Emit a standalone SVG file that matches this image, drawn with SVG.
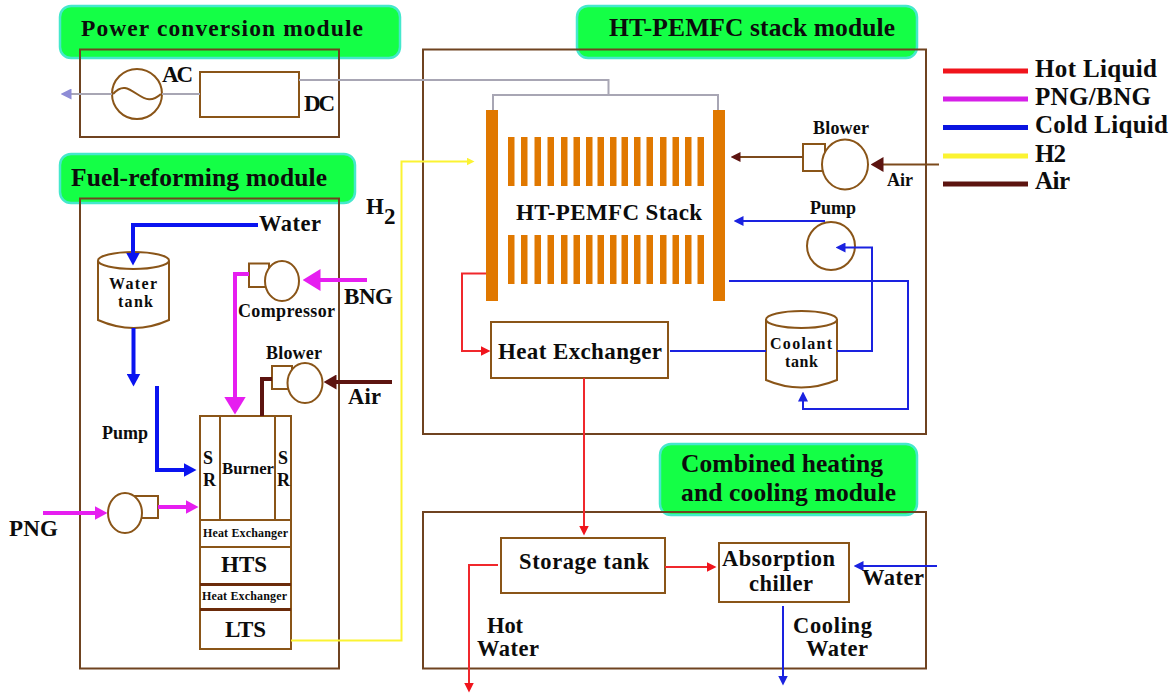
<svg xmlns="http://www.w3.org/2000/svg" width="1175" height="696" viewBox="0 0 1175 696">
<style>
text{font-family:"Liberation Serif","Times New Roman",serif;font-weight:bold;fill:#0c0c0c}
text:not(.t):not(.p){transform:translateY(1px)}
.t{font-size:25.500px}.p{font-size:23.500px}.lg{font-size:25px}.m{font-size:23px}.n{font-size:22.500px}.s{font-size:18px}.x{font-size:12px}
.c{text-anchor:middle}
.badge{fill:#14ff46;stroke:#45e8cc;stroke-width:2.5}
.frame{fill:none;stroke:#6f4320;stroke-width:2}
.eq{fill:#fff;stroke:#8a5518;stroke-width:2}
.eqn{fill:none;stroke:#8a5518;stroke-width:2}
.bar{fill:#e07800}
.l{fill:none;stroke-linejoin:miter}
.blue4{stroke:#0a14f0;stroke-width:4}.blue2{stroke:#1a22e0;stroke-width:2}
.mag{stroke:#e61ef0;stroke-width:4}.red{stroke:#f0282c;stroke-width:2}
.yel{stroke:#fbf332;stroke-width:2}.gry{stroke:#a8a6b4;stroke-width:2}
.air4{stroke:#5c1410;stroke-width:4}.air2{stroke:#7c4a1c;stroke-width:2}
</style>
<defs>
<marker id="hBlueL" markerUnits="userSpaceOnUse" markerWidth="13" markerHeight="14" viewBox="0 0 13 14" refX="0.5" refY="7" orient="auto"><path d="M0 0L13 7L0 14Z" fill="#0a14f0"/></marker>
<marker id="hBlueS" markerUnits="userSpaceOnUse" markerWidth="10" markerHeight="10" viewBox="0 0 10 10" refX="0.5" refY="5" orient="auto"><path d="M0 0L10 5L0 10Z" fill="#1a22e0"/></marker>
<marker id="hMagL" markerUnits="userSpaceOnUse" markerWidth="18" markerHeight="22" viewBox="0 0 18 22" refX="0.5" refY="11" orient="auto"><path d="M0 0L18 11L0 22Z" fill="#e61ef0"/></marker>
<marker id="hMagM" markerUnits="userSpaceOnUse" markerWidth="13" markerHeight="14" viewBox="0 0 13 14" refX="0.5" refY="7" orient="auto"><path d="M0 0L13 7L0 14Z" fill="#e61ef0"/></marker>
<marker id="hRed" markerUnits="userSpaceOnUse" markerWidth="10" markerHeight="10" viewBox="0 0 10 10" refX="0.5" refY="5" orient="auto"><path d="M0 0L10 5L0 10Z" fill="#f0141c"/></marker>
<marker id="hAirL" markerUnits="userSpaceOnUse" markerWidth="13" markerHeight="15" viewBox="0 0 13 15" refX="0.5" refY="7.500" orient="auto"><path d="M0 0L13 7.500L0 15Z" fill="#5c1410"/></marker>
<marker id="hAirS" markerUnits="userSpaceOnUse" markerWidth="10" markerHeight="10" viewBox="0 0 10 10" refX="0.5" refY="5" orient="auto"><path d="M0 0L10 5L0 10Z" fill="#5c1410"/></marker>
<marker id="hYel" markerUnits="userSpaceOnUse" markerWidth="8" markerHeight="8" viewBox="0 0 8 8" refX="0.5" refY="4" orient="auto"><path d="M0 0L8 4L0 8Z" fill="#fbf332"/></marker>
<marker id="hGry" markerUnits="userSpaceOnUse" markerWidth="11" markerHeight="11" viewBox="0 0 11 11" refX="0.5" refY="5.500" orient="auto"><path d="M0 0L11 5.500L0 11Z" fill="#8e8cd6"/></marker>
<g id="fins"><rect class="bar" x="508" width="6.500" height="49"/><rect class="bar" x="521" width="6.500" height="49"/><rect class="bar" x="534.500" width="6.500" height="49"/><rect class="bar" x="547.500" width="6.500" height="49"/><rect class="bar" x="561" width="6.500" height="49"/><rect class="bar" x="573.500" width="6.500" height="49"/><rect class="bar" x="586" width="6.500" height="49"/><rect class="bar" x="597.500" width="6.500" height="49"/><rect class="bar" x="610" width="6.500" height="49"/><rect class="bar" x="621.500" width="6.500" height="49"/><rect class="bar" x="634" width="6.500" height="49"/><rect class="bar" x="646.500" width="6.500" height="49"/><rect class="bar" x="660" width="6.500" height="49"/><rect class="bar" x="672.500" width="6.500" height="49"/><rect class="bar" x="685" width="6.500" height="49"/><rect class="bar" x="697.500" width="6.500" height="49"/></g>
</defs>
<rect width="1175" height="696" fill="#fff"/>

<g id="module-power">
<rect class="badge" x="60" y="6" width="340" height="52" rx="11"/>
<text class="p" x="81" y="36" textLength="282">Power conversion module</text>
<rect class="frame" x="80" y="49.500" width="259" height="87.500"/>
</g>
<g id="module-fuel">
<rect class="badge" x="60" y="154" width="295" height="49" rx="11"/>
<text class="t" x="71" y="186" textLength="256">Fuel-reforming module</text>
<rect class="frame" x="80" y="198.500" width="259" height="470"/>
</g>
<g id="module-stack">
<rect class="badge" x="577" y="6" width="340" height="52" rx="11"/>
<text class="t" x="609" y="36" textLength="286">HT-PEMFC stack module</text>
<rect class="frame" x="423" y="49.500" width="503" height="384.500"/>
</g>
<g id="module-chp">
<rect class="badge" x="660" y="444" width="257" height="71" rx="11"/>
<text class="t" x="681" y="472" textLength="202">Combined heating</text>
<text class="t" x="681" y="501" textLength="215">and cooling module</text>
<rect class="frame" x="423" y="512" width="503" height="156.500"/>
</g>

<g id="generator">
<circle class="eq" cx="137" cy="94" r="25"/>
<path class="eqn" d="M113 94C122 84 128 88 137 94S152 102 161 94"/>
<text class="m" x="162" y="81" textLength="31">AC</text>
</g>
<g id="converter">
<rect class="eq" x="200" y="72" width="99" height="45"/>
<text class="m" x="304" y="110" textLength="31">DC</text>
</g>

<g id="water-tank">
<path class="eq" d="M98 261V320Q134 336 169 320V261"/>
<ellipse class="eq" cx="133.500" cy="260.500" rx="35.500" ry="8.500"/>
<text style="font-size:16px" x="109" y="288" textLength="48">Water</text>
<text style="font-size:16px" x="118" y="306" textLength="35">tank</text>
</g>
<g id="compressor">
<rect class="eq" x="249" y="263.500" width="20" height="23.500"/>
<ellipse class="eq" cx="282" cy="281" rx="17" ry="20"/>
<text class="s" x="238" y="316" textLength="97">Compressor</text>
</g>
<g id="blower-fuel">
<rect class="eq" x="272" y="366" width="20" height="23"/>
<ellipse class="eq" cx="305" cy="383" rx="17.500" ry="20"/>
<text class="s" x="266" y="358" textLength="56">Blower</text>
</g>
<g id="pump-fuel">
<rect class="eq" x="133" y="496" width="25" height="22"/>
<ellipse class="eq" cx="125" cy="513" rx="17" ry="20"/>
</g>
<g id="reformer">
<rect class="eq" x="200" y="416" width="91" height="233"/>
<path class="eqn" d="M220 416V520M275 416V520M200 520H291M200 547H291"/>
<path fill="none" stroke="#6b2b0a" stroke-width="3" d="M200 584.500H291M200 609.500H291"/>
<text class="s" x="203" y="463">S</text><text class="s" x="203" y="485">R</text>
<text class="s" x="278" y="463">S</text><text class="s" x="277" y="485">R</text>
<text style="font-size:16.700px" x="222" y="473" textLength="52">Burner</text>
<text class="x" x="203" y="536" textLength="85">Heat Exchanger</text>
<text class="m" x="221" y="571" textLength="46">HTS</text>
<text class="x" x="202" y="599" textLength="85">Heat Exchanger</text>
<text class="m" x="225" y="636" textLength="41">LTS</text>
</g>

<g id="stack">
<rect class="bar" x="486" y="110" width="12" height="191"/>
<rect class="bar" x="713" y="110" width="12" height="191"/>
<use href="#fins" y="137"/>
<use href="#fins" y="235"/>
<text class="m" x="516" y="219" textLength="186">HT-PEMFC Stack</text>
</g>
<g id="blower-stack">
<rect class="eq" x="803" y="144" width="22" height="27"/>
<ellipse class="eq" cx="845" cy="164.500" rx="23" ry="25"/>
<text class="s" x="813" y="133" textLength="56">Blower</text>
</g>
<g id="pump-stack">
<circle class="eq" cx="831" cy="246" r="24"/>
<text class="s" x="810" y="213" textLength="46">Pump</text>
</g>
<g id="coolant-tank">
<path class="eq" d="M766 319V380Q801 395 837 380V319"/>
<ellipse class="eq" cx="801.500" cy="319.500" rx="35.500" ry="8.500"/>
<text style="font-size:16px" x="770" y="348" textLength="62">Coolant</text>
<text style="font-size:16px" x="785" y="366" textLength="33">tank</text>
</g>
<g id="heat-exchanger">
<rect class="eq" x="491" y="322" width="177" height="56"/>
<text class="m" x="498" y="358" textLength="164">Heat Exchanger</text>
</g>
<g id="storage-tank">
<rect class="eq" x="501" y="538" width="164" height="55"/>
<text class="n" x="519" y="568" textLength="130">Storage tank</text>
</g>
<g id="absorption-chiller">
<rect class="eq" x="719" y="543" width="130" height="59"/>
<text class="n" x="722" y="565" textLength="113">Absorption</text>
<text class="n" x="749" y="590" textLength="64">chiller</text>
</g>

<g id="connectors">
<path class="l gry" d="M299 80H608.500V95M493 110V95H718V110"/>
<path class="l gry" d="M200 94H162M112 94H71" marker-end="url(#hGry)"/>
<path class="l blue4" d="M258 225H133V253" marker-end="url(#hBlueL)"/>
<path class="l blue4" d="M133.500 328V374" marker-end="url(#hBlueL)"/>
<path class="l blue4" d="M157 386V470H184" marker-end="url(#hBlueL)"/>
<path class="l mag" d="M367 280H320" marker-end="url(#hMagL)"/>
<path class="l mag" d="M249 274H235V397" marker-end="url(#hMagL)"/>
<path class="l mag" d="M43 513H95" marker-end="url(#hMagM)"/>
<path class="l mag" d="M158 507H186" marker-end="url(#hMagM)"/>
<path class="l air4" d="M392 382H336" marker-end="url(#hAirL)"/>
<path class="l air4" d="M272 379H262V416"/>
<path class="l yel" d="M291 640.500H401.500V161.500H467" marker-end="url(#hYel)"/>
<path class="l air2" d="M939 164.500H883" marker-end="url(#hAirL)"/>
<path class="l air2" d="M803 157H740" marker-end="url(#hAirS)"/>
<path class="l blue2" d="M825 221H743" marker-end="url(#hBlueS)"/>
<path class="l blue2" d="M837 351H872V247.500H845" marker-end="url(#hBlueS)"/>
<path class="l blue2" d="M729 281H908V409H803V401" marker-end="url(#hBlueS)"/>
<path class="l blue2" d="M670 351H766"/>
<path class="l red" d="M486 273.500H462V351H481" marker-end="url(#hRed)"/>
<path class="l red" d="M584 378V526" marker-end="url(#hRed)"/>
<path class="l red" d="M665 567H707" marker-end="url(#hRed)"/>
<path class="l red" d="M498 565H469V683" marker-end="url(#hRed)"/>
<path class="l blue2" d="M937 566H863" marker-end="url(#hBlueS)"/>
<path class="l blue2" d="M783 606V676" marker-end="url(#hBlueS)"/>
</g>

<g id="flow-labels">
<text class="m" x="366" y="213">H<tspan dy="10">2</tspan></text>
<text class="n" x="259" y="230" textLength="62">Water</text>
<text class="m" x="344" y="303" textLength="49">BNG</text>
<text class="n" x="348" y="403" textLength="33">Air</text>
<text class="s" x="102" y="438" textLength="46">Pump</text>
<text class="m" x="9" y="535" textLength="49">PNG</text>
<text class="s" x="887" y="185" textLength="26">Air</text>
<text class="n" x="862" y="584" textLength="62">Water</text>
<text class="n" x="487" y="632" textLength="36">Hot</text>
<text class="n" x="477" y="655" textLength="62">Water</text>
<text class="n" x="793" y="632" textLength="79">Cooling</text>
<text class="n" x="806" y="655" textLength="62">Water</text>
</g>

<g id="legend">
<path stroke="#f0141c" stroke-width="5" d="M943 71H1028"/>
<path stroke="#d61fe8" stroke-width="5" d="M943 99H1028"/>
<path stroke="#0a14e0" stroke-width="5" d="M943 127.500H1028"/>
<path stroke="#fbf332" stroke-width="5" d="M943 156H1028"/>
<path stroke="#5c1410" stroke-width="5" d="M943 184H1028"/>
<text class="lg" x="1035" y="76" textLength="122">Hot Liquid</text>
<text class="lg" x="1035" y="104" textLength="116">PNG/BNG</text>
<text class="lg" x="1035" y="132" textLength="133">Cold Liquid</text>
<text class="lg" x="1035" y="161" textLength="31">H2</text>
<text class="lg" x="1035" y="188" textLength="35">Air</text>
</g>
</svg>
